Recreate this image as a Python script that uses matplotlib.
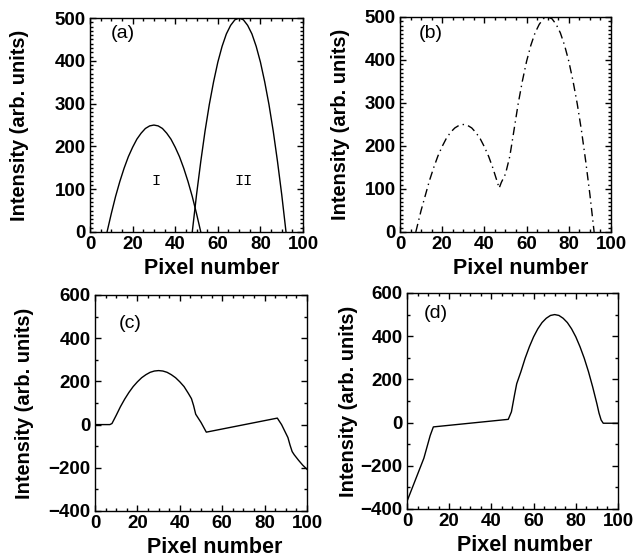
"""Four-panel intensity profiles (a)-(d)."""

import matplotlib

matplotlib.use("Agg")
import matplotlib.pyplot as plt
from matplotlib.ticker import MultipleLocator

plt.rcParams["font.family"] = ["Liberation Sans", "DejaVu Sans"]

# (a) two separate peaks, I and II
a1_x = [8, 10, 12, 14, 16, 18, 20, 22, 24, 26, 28, 30, 32, 34, 36, 38, 40, 42, 44, 46, 48, 50, 52]
a1_y = [0, 43, 83, 118, 149, 176, 198, 217, 231, 242, 248, 250, 248, 242, 231, 217, 198, 176, 149, 118, 83, 43, 0]
a2_x = [48, 50, 52, 54, 56, 58, 60, 62, 64, 66, 68, 70, 72, 74, 76, 78, 80, 82, 84, 86, 88, 90, 92]
a2_y = [0, 87, 165, 236, 298, 351, 397, 434, 463, 483, 496, 500, 496, 483, 463, 434, 397, 351, 298, 236, 165, 87, 0]

# (b) combined profile
b_x = [7.5, 10, 12, 14, 16, 18, 20, 22, 24, 26, 28, 30, 32, 34, 36, 38, 40, 42, 44, 46, 47, 48,
       50, 52, 53, 54, 56, 58, 60, 62, 64, 66, 68, 70, 72, 74, 76, 78, 80, 82, 84, 86, 88, 90, 92]
b_y = [0, 50, 85, 120, 150, 177, 199, 218, 232, 242, 248, 250, 248, 242, 231, 217, 198, 176, 149, 118, 102, 115,
       135, 175, 205, 236, 298, 351, 397, 434, 463, 483, 496, 500, 496, 483, 463, 434, 397, 351, 298, 236, 165, 87, 0]

# (c) recovered profile I
c_x = [0, 7, 8, 10, 12, 14, 16, 18, 20, 22, 24, 26, 28, 30, 32, 34, 36, 38, 40, 42,
       44, 45.5, 46.5, 47.5, 50, 52.5, 86, 88, 90, 91, 92, 93, 94, 96, 98, 100]
c_y = [0, 0, 5, 43, 83, 118, 149, 176, 198, 217, 231, 242, 248, 250, 248, 242, 231, 217, 198, 176,
       145, 120, 88, 48, 10, -35, 30, 0, -40, -60, -95, -125, -140, -165, -188, -207]

# (d) recovered profile II
d_x = [0, 8, 11, 12.5, 48, 49.5, 51, 52, 54, 56, 58, 60, 62, 64, 66, 68, 70, 72, 74, 76,
       78, 80, 82, 84, 86, 88, 90, 91, 92, 93, 100]
d_y = [-365, -165, -60, -20, 15, 50, 130, 180, 236, 298, 351, 397, 434, 463, 483, 496, 500, 496, 483, 463,
       434, 397, 351, 298, 236, 165, 87, 44, 12, -3, -3]

XLABEL = "Pixel number"
YLABEL = "Intensity (arb. units)"


def style_axes(ax, ylim, ymajor, yminor, ylab_x, xlab_x):
    ax.set_xlim(0, 100)
    ax.set_ylim(*ylim)
    ax.xaxis.set_major_locator(MultipleLocator(20))
    ax.xaxis.set_minor_locator(MultipleLocator(5))
    ax.yaxis.set_major_locator(MultipleLocator(ymajor))
    ax.yaxis.set_minor_locator(MultipleLocator(yminor))
    ax.tick_params(which="both", direction="in", top=True, right=True, width=1)
    ax.tick_params(which="major", length=4, labelsize=13.5, pad=3)
    ax.tick_params(which="minor", length=2)
    for lab in ax.get_xticklabels() + ax.get_yticklabels():
        lab.set_fontweight("bold")
    for s in ax.spines.values():
        s.set_linewidth(1.0)
    ax.set_xlabel(XLABEL, fontsize=15.5, fontweight="bold", va="center")
    ax.set_ylabel(YLABEL, fontsize=14.4, fontweight="bold", va="center")
    ax.xaxis.set_label_coords(xlab_x, -0.17)
    ax.yaxis.set_label_coords(ylab_x, 0.5)


fig = plt.figure(figsize=(6.36, 5.57), dpi=100)

ax_a = fig.add_axes([0.1415, 0.5835, 0.335, 0.384])
ax_a.plot(a1_x, a1_y, color="black", lw=1.0)
ax_a.plot(a2_x, a2_y, color="black", lw=1.0)
ax_a.text(31, 120, "I", family="Liberation Mono", fontsize=11, ha="center", va="center")
ax_a.text(72, 120, "II", family="Liberation Mono", fontsize=11, ha="center", va="center")
ax_a.text(0.155, 0.93, "(a)", transform=ax_a.transAxes, fontsize=14, ha="center", va="center")
style_axes(ax_a, (0, 500), 100, 10, -0.333, 0.573)

ax_b = fig.add_axes([0.6289, 0.5835, 0.3318, 0.386])
ax_b.plot(b_x, b_y, color="black", lw=1.0, linestyle=(0, (6, 3, 1, 3)))
ax_b.text(0.147, 0.925, "(b)", transform=ax_b.transAxes, fontsize=14, ha="center", va="center")
style_axes(ax_b, (0, 500), 100, 10, -0.28, 0.574)

ax_c = fig.add_axes([0.1494, 0.0826, 0.3333, 0.3878])
ax_c.plot(c_x, c_y, color="black", lw=1.0)
ax_c.text(0.165, 0.87, "(c)", transform=ax_c.transAxes, fontsize=14, ha="center", va="center")
style_axes(ax_c, (-400, 600), 200, 100, -0.335, 0.566)

ax_d = fig.add_axes([0.6399, 0.0862, 0.3318, 0.3878])
ax_d.plot(d_x, d_y, color="black", lw=1.0)
ax_d.text(0.137, 0.907, "(d)", transform=ax_d.transAxes, fontsize=14, ha="center", va="center")
style_axes(ax_d, (-400, 600), 200, 100, -0.275, 0.56)

fig.savefig("out.png", dpi=100)
plt.close(fig)
